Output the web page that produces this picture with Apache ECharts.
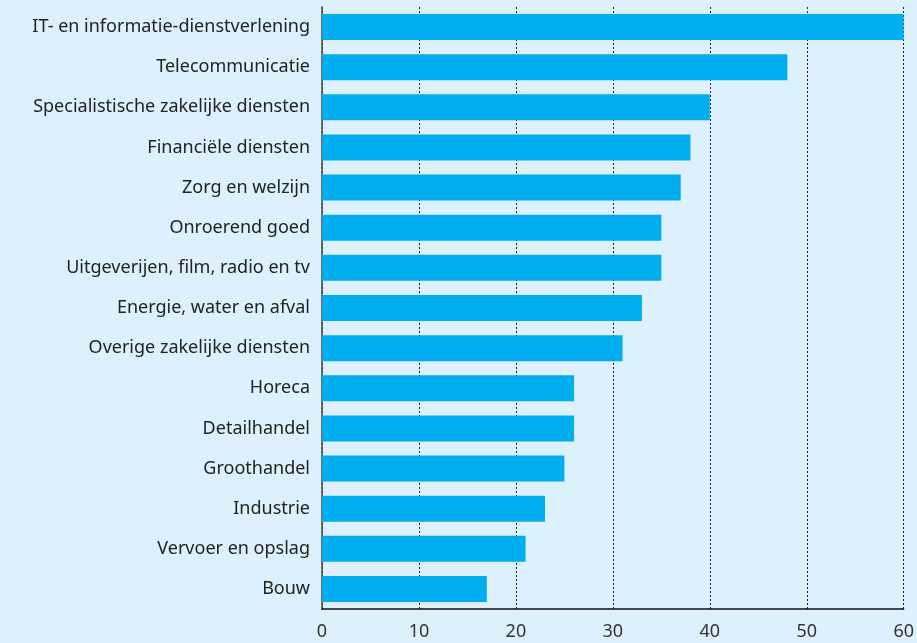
<!DOCTYPE html>
<html>
<head>
<meta charset="utf-8">
<script src="https://cdn.jsdelivr.net/npm/echarts@6/dist/echarts.min.js"></script>
<style>
  html, body { margin: 0; padding: 0; background: #dcf1fb; }
  #chart { width: 917px; height: 643px; }
</style>
</head>
<body>
<div id="chart"></div>
<script>
  // sectors, top to bottom
  var categories = [
    'IT- en informatie-dienstverlening',
    'Telecommunicatie',
    'Specialistische zakelijke diensten',
    'Financiële diensten',
    'Zorg en welzijn',
    'Onroerend goed',
    'Uitgeverijen, film, radio en tv',
    'Energie, water en afval',
    'Overige zakelijke diensten',
    'Horeca',
    'Detailhandel',
    'Groothandel',
    'Industrie',
    'Vervoer en opslag',
    'Bouw'
  ];
  var values = [60, 48, 40, 38, 37, 35, 35, 33, 31, 26, 26, 25, 23, 21, 17];
  var xTicks = [0, 10, 20, 30, 40, 50, 60];

  var chart = echarts.init(document.getElementById('chart'));
  var font = '"Noto Sans", sans-serif';

  chart.setOption({
    backgroundColor: '#dcf1fb',
    animation: false,
    grid: { left: 322, right: 12, top: 7, bottom: 34, containLabel: false },
    xAxis: {
      type: 'value',
      min: xTicks[0],
      max: xTicks[xTicks.length - 1],
      interval: 10,
      axisLine: { show: true, lineStyle: { color: '#111', width: 1.5 } },
      axisTick: { show: false },
      splitLine: { show: true, lineStyle: { color: '#222', type: [2, 2], width: 1 } },
      axisLabel: { color: '#333', fontSize: 18, fontFamily: font, margin: 14 }
    },
    yAxis: {
      type: 'category',
      inverse: true,
      data: categories,
      axisLine: { show: true, lineStyle: { color: '#444', width: 1.5 } },
      axisTick: { show: false },
      axisLabel: { color: '#222', fontSize: 18, fontFamily: font, margin: 12 }
    },
    series: [{
      type: 'bar',
      data: values,
      barWidth: 26,
      itemStyle: { color: '#00adee' }
    }]
  });
</script>
</body>
</html>
